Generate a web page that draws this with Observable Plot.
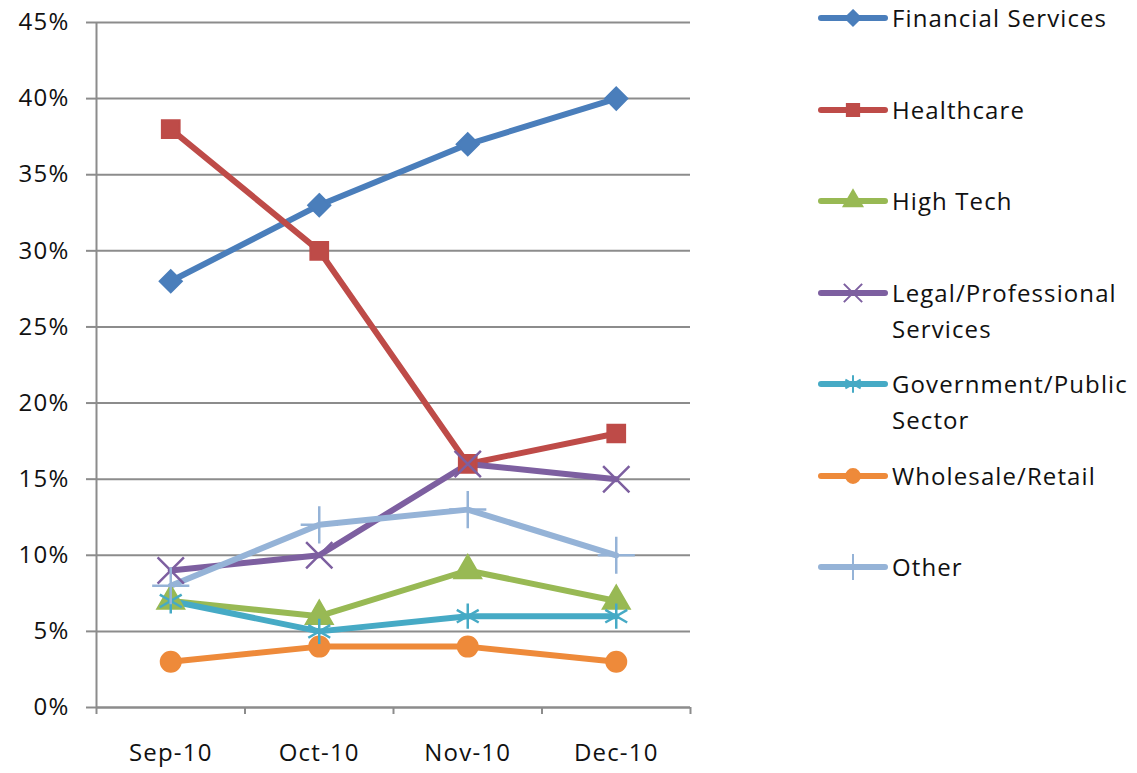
<!DOCTYPE html>
<html><head><meta charset="utf-8">
<script src="https://cdn.jsdelivr.net/npm/d3@7"></script>
<script src="https://cdn.jsdelivr.net/npm/@observablehq/plot@0.6"></script>
<style>
body{margin:0;background:#fff;font-family:"Open Sans",sans-serif;}
#wrap{position:relative;width:1137px;height:773px;overflow:hidden;}
#legend{position:absolute;left:818px;top:0;}
.item{position:absolute;left:0;display:flex;align-items:flex-start;}
.item svg{flex:none;}
.item span{display:block;width:250px;font-size:24px;line-height:36px;color:#111;margin-left:4px;letter-spacing:1.1px;}
</style>
</head><body>
<div id="wrap"><div id="chart"></div><div id="legend"></div></div>
<script>
const months = ["Sep-10", "Oct-10", "Nov-10", "Dec-10"];
const seriesNames = ["Financial Services", "Healthcare", "High Tech", "Legal/Professional Services", "Government/Public Sector", "Wholesale/Retail", "Other"];
const financial = [28, 33, 37, 40];
const healthcare = [38, 30, 16, 18];
const highTech = [7, 6, 9, 7];
const legal = [9, 10, 16, 15];
const government = [7, 5, 6, 6];
const wholesale = [3, 4, 4, 3];
const other = [8, 12, 13, 10];
const yTicks = [0, 5, 10, 15, 20, 25, 30, 35, 40, 45];

const seriesValues = [financial, healthcare, highTech, legal, government, wholesale, other];
const colors = ["#4a7ebb", "#be4b48", "#98b954", "#7d5fa0", "#46aac5", "#ee8a3a", "#95b3d7"];
const symbols = ["diamond2", "square", "triangle", "times", "asterisk", "circle", "plus"];
const filled = [true, true, true, false, false, true, false];

const rows = seriesNames.flatMap((s, i) => seriesValues[i].map((v, j) => ({series: s, month: j, value: v, filled: filled[i]})));
const gray = "#8c8c8c";
const textColor = "#111";

const chart = Plot.plot({
  width: 1137, height: 773,
  marginLeft: 96, marginRight: 447, marginTop: 22, marginBottom: 66,
  x: {type: "linear", domain: [-0.5, 3.5]},
  y: {domain: [0, 45]},
  color: {domain: seriesNames, range: colors},
  symbol: {domain: seriesNames, range: symbols},
  style: {fontFamily: "Open Sans", fontSize: "24px", background: "white", color: textColor, letterSpacing: "1.2px"},
  marks: [
    Plot.gridY({ticks: yTicks, stroke: gray, strokeOpacity: 1, strokeWidth: 2}),
    Plot.axisY({ticks: yTicks, tickSize: 10, tickPadding: 17, tickFormat: d => d + "%", stroke: gray, strokeWidth: 2, fill: textColor, label: null, fontSize: 24}),
    Plot.ruleX([-0.5], {stroke: gray, strokeWidth: 2}),
    Plot.ruleY([0], {stroke: gray, strokeWidth: 2}),
    Plot.axisX({ticks: [-0.5, 0.5, 1.5, 2.5, 3.5], tickSize: 7, tickFormat: () => "", stroke: gray, strokeWidth: 2, label: null}),
    Plot.axisX({ticks: [0, 1, 2, 3], tickSize: 0, tickPadding: 36, tickFormat: i => months[i], fill: textColor, label: null, fontSize: 24}),
    Plot.line(rows, {x: "month", y: "value", z: "series", stroke: "series", strokeWidth: 6, strokeLinejoin: "round", strokeLinecap: "round"}),
    Plot.dot(rows.filter(d => d.filled), {x: "month", y: "value", symbol: "series", fill: "series", stroke: "series", r: 10, strokeWidth: 2}),
    Plot.dot(rows.filter(d => !d.filled), {x: "month", y: "value", symbol: "series", stroke: "series", r: 12, strokeWidth: 2.5})
  ]
});
document.getElementById("chart").appendChild(chart);

// Legend
const symMap = {diamond2: d3.symbolDiamond2, square: d3.symbolSquare, triangle: d3.symbolTriangle, times: d3.symbolTimes, asterisk: d3.symbolAsterisk, circle: d3.symbolCircle, plus: d3.symbolPlus};
const legend = d3.select("#legend");
seriesNames.forEach((name, i) => {
  const item = legend.append("div").attr("class", "item").style("top", (i * 91.5) + "px");
  const svg = item.append("svg").attr("width", 70).attr("height", 36);
  svg.append("line").attr("x1", 3).attr("x2", 67).attr("y1", 18).attr("y2", 18)
    .attr("stroke", colors[i]).attr("stroke-width", 6).attr("stroke-linecap", "round");
  svg.append("path").attr("transform", "translate(35,18)")
    .attr("d", d3.symbol(symMap[symbols[i]], filled[i] ? 150 : 220)())
    .attr("fill", filled[i] ? colors[i] : "none").attr("stroke", colors[i]).attr("stroke-width", 2);
  item.append("span").text(name);
});
</script>
</body></html>
